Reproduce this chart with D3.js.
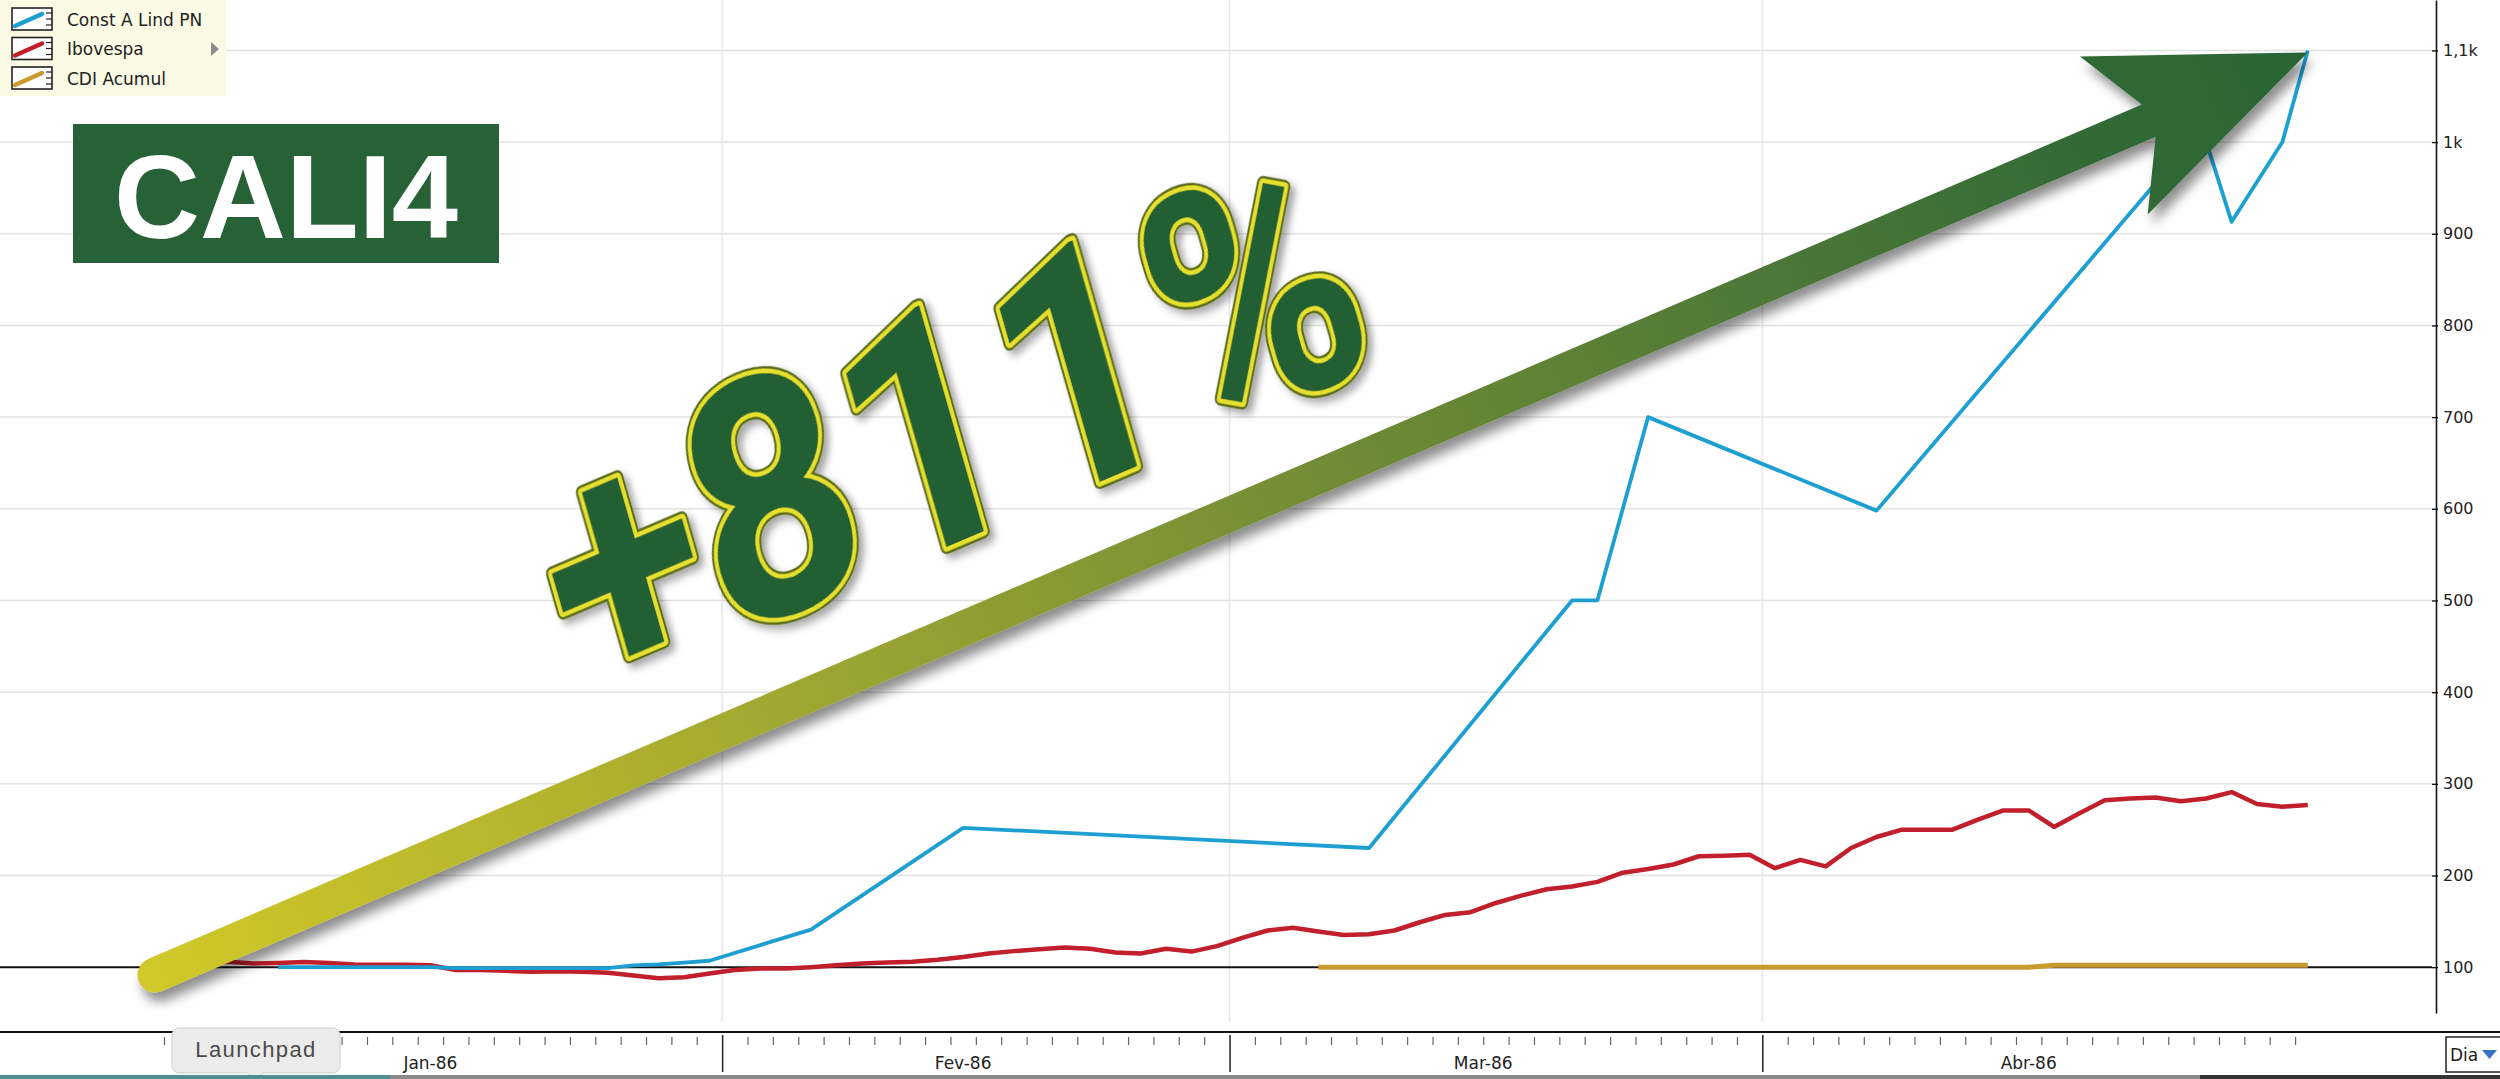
<!DOCTYPE html>
<html><head><meta charset="utf-8">
<script src="https://cdn.jsdelivr.net/npm/d3@7"></script>
<style>html,body{margin:0;padding:0;background:#fff;overflow:hidden}svg{display:block}</style>
</head><body>
<script>
// ---------- DATA ----------
const months = ["Jan-86", "Fev-86", "Mar-86", "Abr-86"];
const monthStartDay = [0, 22, 42, 63];   // trading-day index where each month starts
const dayCount = 85;                      // trading days shown (Jan..Abr 1986)
const yTicks = [100, 200, 300, 400, 500, 600, 700, 800, 900, 1000, 1100];
const yTickLabels = ["100", "200", "300", "400", "500", "600", "700", "800", "900", "1k", "1,1k"];
const seriesNames = ["Const A Lind PN", "Ibovespa", "CDI Acumul"];
const seriesColors = ["#1d9fd2", "#c11f2c", "#c99a2e"];

// Const A Lind PN (sparse trades): day index and value
const blueDays   = [4, 10, 11, 17, 18, 19, 20, 21, 25, 31, 47, 55, 56, 58, 67, 78, 80, 81, 83, 84];
const blueValues = [100, 100, 99, 99, 102, 103, 105, 107, 141, 252, 230, 500, 500, 700, 598, 955, 1000, 913, 1000, 1100];

// Ibovespa, one value per trading day (day 0 .. 84)
const redValues = [
  100, 104, 106, 104, 104.5, 105.5, 104.5, 103, 102.7, 102.5, 102,
  97, 97, 96, 95, 95.5, 95, 94, 91, 88, 89, 93,
  97, 98.5, 98.5, 100, 102, 104, 105, 106, 108, 111, 115, 117.5, 119.5, 121.5, 120, 116, 115, 120, 117, 123,
  132, 140, 143, 139, 135, 136, 140, 149, 157, 160, 170, 178, 185, 188, 193, 203, 207, 212, 221, 221.5, 222.5,
  208, 217, 210, 230, 242, 250, 250, 250, 261, 271, 271, 253, 268, 282, 284, 285, 281, 284, 291, 278, 275, 277
];

// CDI Acumul, starting at day 45
const yellowStartDay = 45;
const yellowValues = [
  100, 100, 100, 100, 100, 100, 100, 100, 100, 100, 100, 100, 100, 100, 100,
  100, 100, 100, 100, 100, 100, 100, 100, 100, 100, 100, 100, 100, 100,
  102, 102, 102, 102, 102, 102, 102, 102, 102, 102, 102
];

// ---------- CHART ----------
const W = 2500, H = 1079;
const svg = d3.select("body").append("svg").attr("width", W).attr("height", H)
  .style("font-family", "'DejaVu Sans', sans-serif");
svg.append("rect").attr("width", W).attr("height", H).attr("fill", "#fff");

const defs = svg.append("defs");
const sh = defs.append("filter").attr("id", "shadow").attr("x", "-10%").attr("y", "-20%").attr("width", "130%").attr("height", "150%");
sh.append("feDropShadow").attr("dx", 5).attr("dy", 9).attr("stdDeviation", 6)
  .attr("flood-color", "#000").attr("flood-opacity", 0.45);
const sh2 = defs.append("filter").attr("id", "tshadow").attr("x", "-10%").attr("y", "-20%").attr("width", "130%").attr("height", "150%");
sh2.append("feDropShadow").attr("dx", 4).attr("dy", 6).attr("stdDeviation", 4)
  .attr("flood-color", "#000").attr("flood-opacity", 0.35);

const axisX = 2436;
const x = d3.scaleLinear().domain([0, dayCount]).range([164, 164 + dayCount * 25.37]);
const y = d3.scaleLinear().domain([50, 1155]).range([1013, 0]);

// grid
const grid = svg.append("g");
grid.selectAll("line.h").data(yTicks.filter(v => v !== 100)).join("line")
  .attr("x1", 0).attr("x2", axisX - 4).attr("y1", d => y(d)).attr("y2", d => y(d))
  .attr("stroke", "#e2e2e2").attr("stroke-width", 1.5);
grid.selectAll("line.v").data(monthStartDay.slice(1)).join("line")
  .attr("x1", d => x(d)).attr("x2", d => x(d)).attr("y1", 0).attr("y2", 1022)
  .attr("stroke", "#e6e6e6").attr("stroke-width", 1.5);
svg.append("line").attr("x1", 0).attr("x2", axisX - 4).attr("y1", y(100)).attr("y2", y(100))
  .attr("stroke", "#111").attr("stroke-width", 2);

// series
const line = d3.line().x(d => x(d.day + 0.5)).y(d => y(d.v));
const yellowData = yellowValues.map((v, i) => ({day: yellowStartDay + i, v}));
const redData = redValues.map((v, i) => ({day: i, v}));
const blueData = blueDays.map((d, i) => ({day: d, v: blueValues[i]}));
svg.append("path").datum(yellowData).attr("d", line).attr("fill", "none")
  .attr("stroke", seriesColors[2]).attr("stroke-width", 5);
svg.append("path").datum(redData).attr("d", line).attr("fill", "none")
  .attr("stroke", seriesColors[1]).attr("stroke-width", 4.5).attr("stroke-linejoin", "round");
svg.append("path").datum(blueData).attr("d", line).attr("fill", "none")
  .attr("stroke", seriesColors[0]).attr("stroke-width", 3.8).attr("stroke-linejoin", "round");

// y axis
const ya = svg.append("g").attr("transform", `translate(${axisX},0)`)
  .call(d3.axisRight(y).tickValues(yTicks).tickFormat((d, i) => yTickLabels[i]).tickSize(2).tickSizeOuter(0).tickPadding(6));
ya.select(".domain").attr("stroke", "#111").attr("stroke-width", 1.6);
ya.selectAll(".tick line").attr("x1", -4).attr("x2", 2).attr("stroke", "#111").attr("stroke-width", 1.4);
ya.selectAll(".tick text").attr("x", 7).attr("fill", "#222")
  .style("font-family", "'DejaVu Sans', sans-serif").style("font-size", "16px");

// x axis
svg.append("line").attr("x1", 0).attr("x2", W).attr("y1", 1032).attr("y2", 1032)
  .attr("stroke", "#111").attr("stroke-width", 2);
const xa = svg.append("g").attr("transform", "translate(0,1032)")
  .call(d3.axisBottom(x).tickValues(d3.range(0, dayCount)).tickFormat("").tickSizeOuter(0));
xa.select(".domain").remove();
xa.selectAll(".tick line")
  .attr("y1", d => monthStartDay.includes(d) && d > 0 ? 3 : 5)
  .attr("y2", d => monthStartDay.includes(d) && d > 0 ? 40 : 13)
  .attr("stroke", d => monthStartDay.includes(d) && d > 0 ? "#222" : "#666")
  .attr("stroke-width", d => monthStartDay.includes(d) && d > 0 ? 1.5 : 1.2);
svg.append("g").selectAll("text").data(months).join("text")
  .attr("x", (m, i) => {
    const s = monthStartDay[i];
    const e = i < months.length - 1 ? monthStartDay[i + 1] - 1 : dayCount - 1;
    return x((s + e) / 2);
  })
  .attr("y", 1069).attr("text-anchor", "middle").attr("fill", "#222")
  .style("font-size", "17px").text(d => d);

// legend
const lg = svg.append("g");
lg.append("rect").attr("x", 0).attr("y", 0).attr("width", 226).attr("height", 96).attr("fill", "#fbfbe5");
const rows = lg.selectAll("g.row").data(seriesNames).join("g")
  .attr("transform", (d, i) => `translate(0,${8 + i * 29.5})`);
rows.append("rect").attr("x", 12).attr("y", 0).attr("width", 40).attr("height", 22)
  .attr("fill", "#fff").attr("stroke", "#222").attr("stroke-width", 1.6);
rows.append("line").attr("x1", 15).attr("y1", 18).attr("x2", 42).attr("y2", 6)
  .attr("stroke", (d, i) => seriesColors[i]).attr("stroke-width", 4.5).attr("stroke-linecap", "round");
rows.each(function() {
  const g = d3.select(this);
  [5, 11, 17].forEach(t => g.append("line").attr("x1", 46).attr("x2", 52).attr("y1", t).attr("y2", t)
    .attr("stroke", "#222").attr("stroke-width", 1.2));
});
rows.append("text").attr("x", 67).attr("y", 17.5).attr("fill", "#222").style("font-size", "17px").text(d => d);
lg.append("path").attr("d", "M211,42 L219,49 L211,56 Z").attr("fill", "#8c8c8c");

// CALI4 badge
svg.append("rect").attr("x", 73).attr("y", 124).attr("width", 426).attr("height", 139).attr("fill", "#266236");
svg.append("text").attr("x", 286).attr("y", 238).attr("text-anchor", "middle").attr("fill", "#fff")
  .style("font-family", "'Liberation Sans', Arial, sans-serif").style("font-weight", "bold").style("font-size", "119px")
  .text("CALI4");

// arrow annotation (tip at the last data point)
const tip = [x(84.5), y(1100) + 2];
const tail = [155, 975];
const dx = tip[0] - tail[0], dy = tip[1] - tail[1];
const len = Math.hypot(dx, dy), ang = Math.atan2(dy, dx) * 180 / Math.PI;
const grad = defs.append("linearGradient").attr("id", "agrad").attr("gradientUnits", "userSpaceOnUse")
  .attr("x1", -len - 16).attr("y1", 0).attr("x2", 0).attr("y2", 0);
[[0, "#d2c92a"], [0.25, "#a9ad2f"], [0.5, "#7a9135"], [0.75, "#4d7837"], [0.92, "#2f6836"], [1, "#2b6536"]]
  .forEach(([o, c]) => grad.append("stop").attr("offset", o).attr("stop-color", c));
const h = 17.5;
svg.append("g").attr("filter", "url(#shadow)")
  .append("path").attr("transform", `translate(${tip[0]},${tip[1]}) rotate(${ang})`)
  .attr("d", `M${-len},${-h} L-173,${-h} L-211,-86 L0,0 L-211,86 L-173,${h} L${-len},${h} A${h},${h} 0 0 1 ${-len},${-h} Z`)
  .attr("fill", "url(#agrad)");

// +811% label
const lblFont = "Roboto, 'Liberation Sans', Arial, sans-serif";
const lbl = svg.append("g").attr("filter", "url(#tshadow)")
  .attr("transform", "translate(982,532) rotate(-23) skewX(-7) scale(0.93,1.05)");
const addLbl = () => lbl.append("text").attr("text-anchor", "middle")
  .style("font-family", lblFont).style("font-weight", "bold").style("font-size", "312px").text("+811%");
addLbl().attr("fill", "#5a6a1e").attr("stroke", "#5a6a1e").attr("stroke-width", 13).attr("stroke-linejoin", "round");
addLbl().attr("fill", "#245e31").attr("stroke", "#e6e02e").attr("stroke-width", 8.5).attr("stroke-linejoin", "round");
addLbl().attr("fill", "#245e31");

// Launchpad tooltip
const tp = svg.append("g");
tp.append("path").attr("d", "M180,1028 H332 Q340,1028 340,1036 V1065 Q340,1073 332,1073 H263 L255,1081 L247,1073 H180 Q172,1073 172,1065 V1036 Q172,1028 180,1028 Z")
  .attr("fill", "#ececec").attr("stroke", "#cfcfcf").attr("stroke-width", 1);
tp.append("text").attr("x", 256).attr("y", 1057).attr("text-anchor", "middle").attr("fill", "#4a4a4a")
  .style("font-family", "'Liberation Sans', Arial, sans-serif").style("font-size", "22px").style("letter-spacing", "1.4px")
  .text("Launchpad");

// Dia selector
svg.append("rect").attr("x", 2446).attr("y", 1037).attr("width", 60).attr("height", 35)
  .attr("fill", "#fff").attr("stroke", "#222").attr("stroke-width", 1.5);
svg.append("text").attr("x", 2450).attr("y", 1061).attr("fill", "#222").style("font-size", "17px").text("Dia");
svg.append("path").attr("d", "M2482,1050 L2497,1050 L2489.5,1059 Z").attr("fill", "#3a6fc6");

// bottom screen strip
svg.append("rect").attr("x", 0).attr("y", 1075).attr("width", 390).attr("height", 4).attr("fill", "#4d8f8f");
svg.append("rect").attr("x", 390).attr("y", 1075).attr("width", 1810).attr("height", 4).attr("fill", "#8a8a8a");
svg.append("rect").attr("x", 2200).attr("y", 1075).attr("width", 300).attr("height", 4).attr("fill", "#333");
</script>
</body></html>
